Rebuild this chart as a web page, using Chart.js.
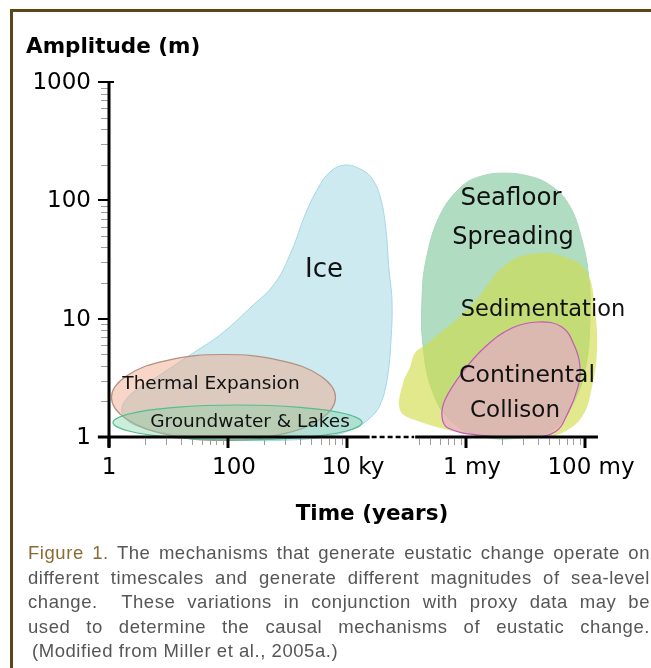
<!DOCTYPE html>
<html>
<head>
<meta charset="utf-8">
<script src="https://cdn.jsdelivr.net/npm/chart.js@4.4.1/dist/chart.umd.min.js"></script>
<style>
  html, body { margin: 0; padding: 0; background: #fff; }
  body { width: 651px; height: 668px; position: relative; overflow: hidden; }
  #frame { position: absolute; left: 10px; top: 9px; width: 700px; height: 700px;
           border-top: 3px solid #5c4516; border-left: 3px solid #5c4516; }
  #wrap { position: absolute; left: 0; top: 0; width: 651px; height: 668px; }
  #caption { position: absolute; left: 28px; top: 541px; width: 622px;
             font-family: "Liberation Sans", Arial, sans-serif; font-size: 18.5px;
             letter-spacing: 0.55px; line-height: 24.5px; color: #565656; }
  #caption .ln { white-space: nowrap; text-align: justify; text-align-last: justify; }
  #caption .last { text-align: left; text-align-last: left; padding-left: 4px; }
  #caption .fig { color: #8a6a33; }
</style>
</head>
<body>
<div id="frame"></div>
<div id="wrap"><canvas id="c" width="651" height="668"></canvas></div>
<div id="caption">
  <div class="ln"><span class="fig">Figure 1.</span> The mechanisms that generate eustatic change operate on</div>
  <div class="ln">different timescales and generate different magnitudes of sea-level</div>
  <div class="ln">change.&nbsp; These variations in conjunction with proxy data may be</div>
  <div class="ln">used to determine the causal mechanisms of eustatic change.</div>
  <div class="ln last">(Modified from Miller et al., 2005a.)</div>
</div>
<script>
// ---- values: time in years (x), amplitude in metres (y) ----
const yearTicks = [1, 100, 1e4, 1e6, 1e8];
const yearTickLabels = ['1', '100', '10 ky', '1 my', '100 my'];
const ampTicks = [1, 10, 100, 1000];
const ampTickLabels = ['1', '10', '100', '1000'];

// axis break on the time axis (years) and axis extent
const timeAxisStart = 0.65;
const timeBreak = [2.4e4, 1.4e5];
const timeAxisEnd = 1.65e8;

// outlines of each mechanism's domain, [years, metres]
const iceOutline = [
  [9200, 199], [17900, 181], [27400, 149], [37300, 101], [45200, 56], [50800, 25.8],
  [57000, 14.4], [54900, 6.61], [47000, 3.03], [35900, 1.865], [24400, 1.447],
  [13600, 1.19], [5180, 1.02], [1100, 0.943], [159, 0.943], [15.6, 1.04], [2.74, 1.26],
  [1.65, 1.63], [2.25, 2.26], [7.2, 3.34], [23, 4.93], [73, 7.28], [234, 12.3],
  [617, 20.0], [1190, 38.1], [1970, 75.3], [3260, 127], [5180, 174]
];
const thermalOutline = [
  [6410, 2.16], [3590, 3.28], [734, 4.45], [84, 4.98], [9.62, 4.45], [1.97, 3.28],
  [1.10, 2.16], [1.97, 1.42], [9.62, 1.046], [84, 0.934], [734, 1.046], [3590, 1.42]
];
const groundwaterOutline = [
  [17900, 1.326], [9360, 1.573], [1607, 1.781], [144.5, 1.865], [12.98, 1.781],
  [2.23, 1.573], [1.167, 1.326], [2.23, 1.118], [12.98, 0.987], [144.5, 0.943],
  [1607, 0.987], [9360, 1.118]
];
const seafloorOutline = [
  [4.52e6, 170], [1.1e7, 161], [2.39e7, 138], [5.18e7, 95], [8.9e7, 46.3],
  [1.17e8, 21.2], [1.21e8, 9.75], [1.04e8, 4.06], [6.79e7, 2.06], [3.13e7, 1.19],
  [8.09e6, 0.98], [1.72e6, 1.02], [5.38e5, 1.39], [2.68e5, 2.5], [1.89e5, 6.0],
  [1.82e5, 14.4], [2.13e5, 31.3], [3.66e5, 75.3], [8.57e5, 132], [1.86e6, 161]
];
const sedimentationOutline = [
  [1.62e7, 35.9], [5.18e7, 32.6], [1.08e8, 24.8], [1.47e8, 11.8], [1.59e8, 5.44],
  [1.31e8, 2.65], [8.9e7, 1.48], [4.1e7, 1.08], [1.62e7, 0.98], [3.73e6, 0.98],
  [8.57e5, 1.08], [1.39e5, 1.39], [7.78e4, 1.69], [8.73e4, 2.86], [1.15e5, 3.91],
  [1.39e5, 5.13], [2.3e5, 6.23], [1.26e6, 13.1], [4.52e6, 28.4]
];
const collisionOutline = [
  [1.62e7, 9.38], [4.1e7, 8.51], [6.79e7, 5.76], [8.24e7, 3.91], [7.63e7, 2.65],
  [5.18e7, 1.6], [3.13e7, 1.1], [1.1e7, 1.0], [1.59e6, 1.04], [4.98e5, 1.19],
  [3.95e5, 1.48], [4.44e5, 2.06], [8.57e5, 3.48], [2.09e6, 5.76], [5.93e6, 8.34]
];

// text placed inside each domain, anchored at [years, metres]
const regionLabels = ['Ice', 'Thermal Expansion', 'Groundwater & Lakes', 'Seafloor', 'Spreading',
                      'Sedimentation', 'Continental', 'Collison'];
const regionLabelAnchors = [
  [4100, 25.8], [51.8, 2.81], [234, 1.34], [5.71e6, 103], [6.17e6, 48.1],
  [1.97e7, 11.8], [1.06e7, 3.28], [6.66e6, 1.66]
];

// ---- drawing ----
const handFont = '"Comic Sans MS", "DejaVu Sans", sans-serif';
const regionLabelSizes = [26, 18.5, 18.5, 24.5, 24, 22.5, 23.5, 23];

// A line controller whose path is closed and smoothed all the way round.
class ClosedLineController extends Chart.LineController {
  update(mode) {
    const line = this._cachedMeta.dataset;
    if (line) { line._loop = true; line._fullLoop = true; }
    super.update(mode);
  }
}
ClosedLineController.id = 'closedLine';
ClosedLineController.defaults = Object.assign({}, Chart.LineController.defaults);
Chart.register(ClosedLineController);

const toPoints = arr => arr.map(([x, y]) => ({ x, y }));

function region(label, outline, fill, stroke, width, order) {
  return {
    type: 'closedLine',
    label,
    data: toPoints(outline),
    backgroundColor: fill,
    borderColor: stroke,
    borderWidth: width,
    fill: 'shape',
    tension: 0.4,
    pointRadius: 0,
    pointHitRadius: 0,
    order,
    clip: false
  };
}

const axisPainter = {
  id: 'axisPainter',
  afterDatasetsDraw(chart) {
    const { ctx, scales: { x, y } } = chart;
    const px = v => x.getPixelForValue(v);
    const py = v => y.getPixelForValue(v);
    const x0 = px(1), y0 = py(1), yTop = py(1000);
    ctx.save();

    // region names
    ctx.fillStyle = '#111';
    ctx.textAlign = 'center';
    ctx.textBaseline = 'middle';
    regionLabels.forEach((t, i) => {
      ctx.font = `${regionLabelSizes[i]}px ${handFont}`;
      ctx.fillText(t, px(regionLabelAnchors[i][0]), py(regionLabelAnchors[i][1]));
    });

    // minor ticks, amplitude axis
    ctx.strokeStyle = '#9c9c9c';
    ctx.lineWidth = 1;
    for (let d = 1; d < 1000; d *= 10) {
      for (let k = 2; k <= 9; k++) {
        const yy = Math.round(py(d * k)) + 0.5;
        ctx.beginPath(); ctx.moveTo(x0 - 8, yy); ctx.lineTo(x0 - 1, yy); ctx.stroke();
      }
    }
    // minor ticks, time axis (squares of 2..9 within each two-decade span)
    for (let d = 1; d < 1e8; d *= 100) {
      for (let k = 2; k <= 9; k++) {
        const v = d * k * k;
        if (v > timeBreak[0] && v < timeBreak[1]) continue;
        const xx = Math.round(px(v)) + 0.5;
        ctx.beginPath(); ctx.moveTo(xx, y0 + 2); ctx.lineTo(xx, y0 + 8); ctx.stroke();
      }
    }

    // axis lines
    ctx.strokeStyle = '#000';
    ctx.lineWidth = 3;
    ctx.lineCap = 'butt';
    ctx.beginPath();
    ctx.moveTo(x0, yTop - 1); ctx.lineTo(x0, y0 + 10);
    ctx.moveTo(px(timeAxisStart), y0); ctx.lineTo(px(timeBreak[0]), y0);
    ctx.moveTo(px(timeBreak[1]), y0); ctx.lineTo(px(timeAxisEnd), y0);
    ctx.stroke();
    ctx.setLineDash([5, 3]);
    ctx.lineWidth = 2.5;
    ctx.beginPath();
    ctx.moveTo(px(timeBreak[0]) + 2, y0); ctx.lineTo(px(timeBreak[1]) - 1, y0);
    ctx.stroke();
    ctx.setLineDash([]);

    // major ticks
    ctx.lineWidth = 2;
    ampTicks.forEach(v => {
      const yy = Math.round(py(v));
      ctx.beginPath(); ctx.moveTo(x0 - 11, yy); ctx.lineTo(x0 + (v === 1000 ? 5 : 0), yy); ctx.stroke();
    });
    ctx.lineWidth = 3;
    yearTicks.forEach(v => {
      const xx = Math.round(px(v));
      ctx.beginPath(); ctx.moveTo(xx, y0); ctx.lineTo(xx, y0 + 11); ctx.stroke();
    });

    // tick labels
    ctx.fillStyle = '#000';
    ctx.font = `23px ${handFont}`;
    ctx.textAlign = 'right';
    ctx.textBaseline = 'middle';
    ampTicks.forEach((v, i) => ctx.fillText(ampTickLabels[i], x0 - 18, py(v) + 1));
    ctx.textAlign = 'center';
    yearTicks.forEach((v, i) => ctx.fillText(yearTickLabels[i], px(v) + (i ? 6 : 0), y0 + 31));

    // axis titles
    ctx.font = `bold 21.5px ${handFont}`;
    ctx.textAlign = 'left';
    ctx.fillText('Amplitude (m)', 26, 47);
    ctx.textAlign = 'center';
    ctx.fillText('Time (years)', 372, 514);
    ctx.restore();
  }
};

// scale ranges chosen so that 1 yr sits at x=109, 1 m at y=437
const decadeX = 59.5, decadeY = 118.3;
const xMinExp = -0.2, xMaxExp = 8.4, yMinExp = -0.15, yMaxExp = 3.1;

new Chart(document.getElementById('c'), {
  type: 'closedLine',
  data: {
    datasets: [
      region('Continental Collison', collisionOutline, 'rgba(235,160,215,0.6)', '#c25ab9', 1.2, 1),
      region('Sedimentation', sedimentationOutline, 'rgba(209,219,70,0.62)', 'rgba(0,0,0,0)', 0, 2),
      region('Seafloor Spreading', seafloorOutline, '#b0dcc2', '#a8d8bc', 1, 3),
      region('Groundwater & Lakes', groundwaterOutline, 'rgba(130,210,165,0.40)', '#55bd92', 1.2, 4),
      region('Thermal Expansion', thermalOutline, 'rgba(240,165,130,0.45)', '#b48f80', 1.2, 5),
      region('Ice', iceOutline, '#cdeaf1', '#a3d7e6', 1, 6)
    ]
  },
  options: {
    responsive: false,
    animation: false,
    events: [],
    devicePixelRatio: 1,
    layout: {
      padding: {
        left: 109 + xMinExp * decadeX,
        right: 651 - (109 + xMaxExp * decadeX),
        top: 437 - yMaxExp * decadeY,
        bottom: 668 - (437 - yMinExp * decadeY)
      }
    },
    scales: {
      x: { type: 'logarithmic', display: false, bounds: 'data',
           min: Math.pow(10, xMinExp), max: Math.pow(10, xMaxExp) },
      y: { type: 'logarithmic', display: false, bounds: 'data',
           min: Math.pow(10, yMinExp), max: Math.pow(10, yMaxExp) }
    },
    plugins: { legend: { display: false }, tooltip: { enabled: false }, title: { display: false } }
  },
  plugins: [axisPainter]
});
</script>
</body>
</html>
